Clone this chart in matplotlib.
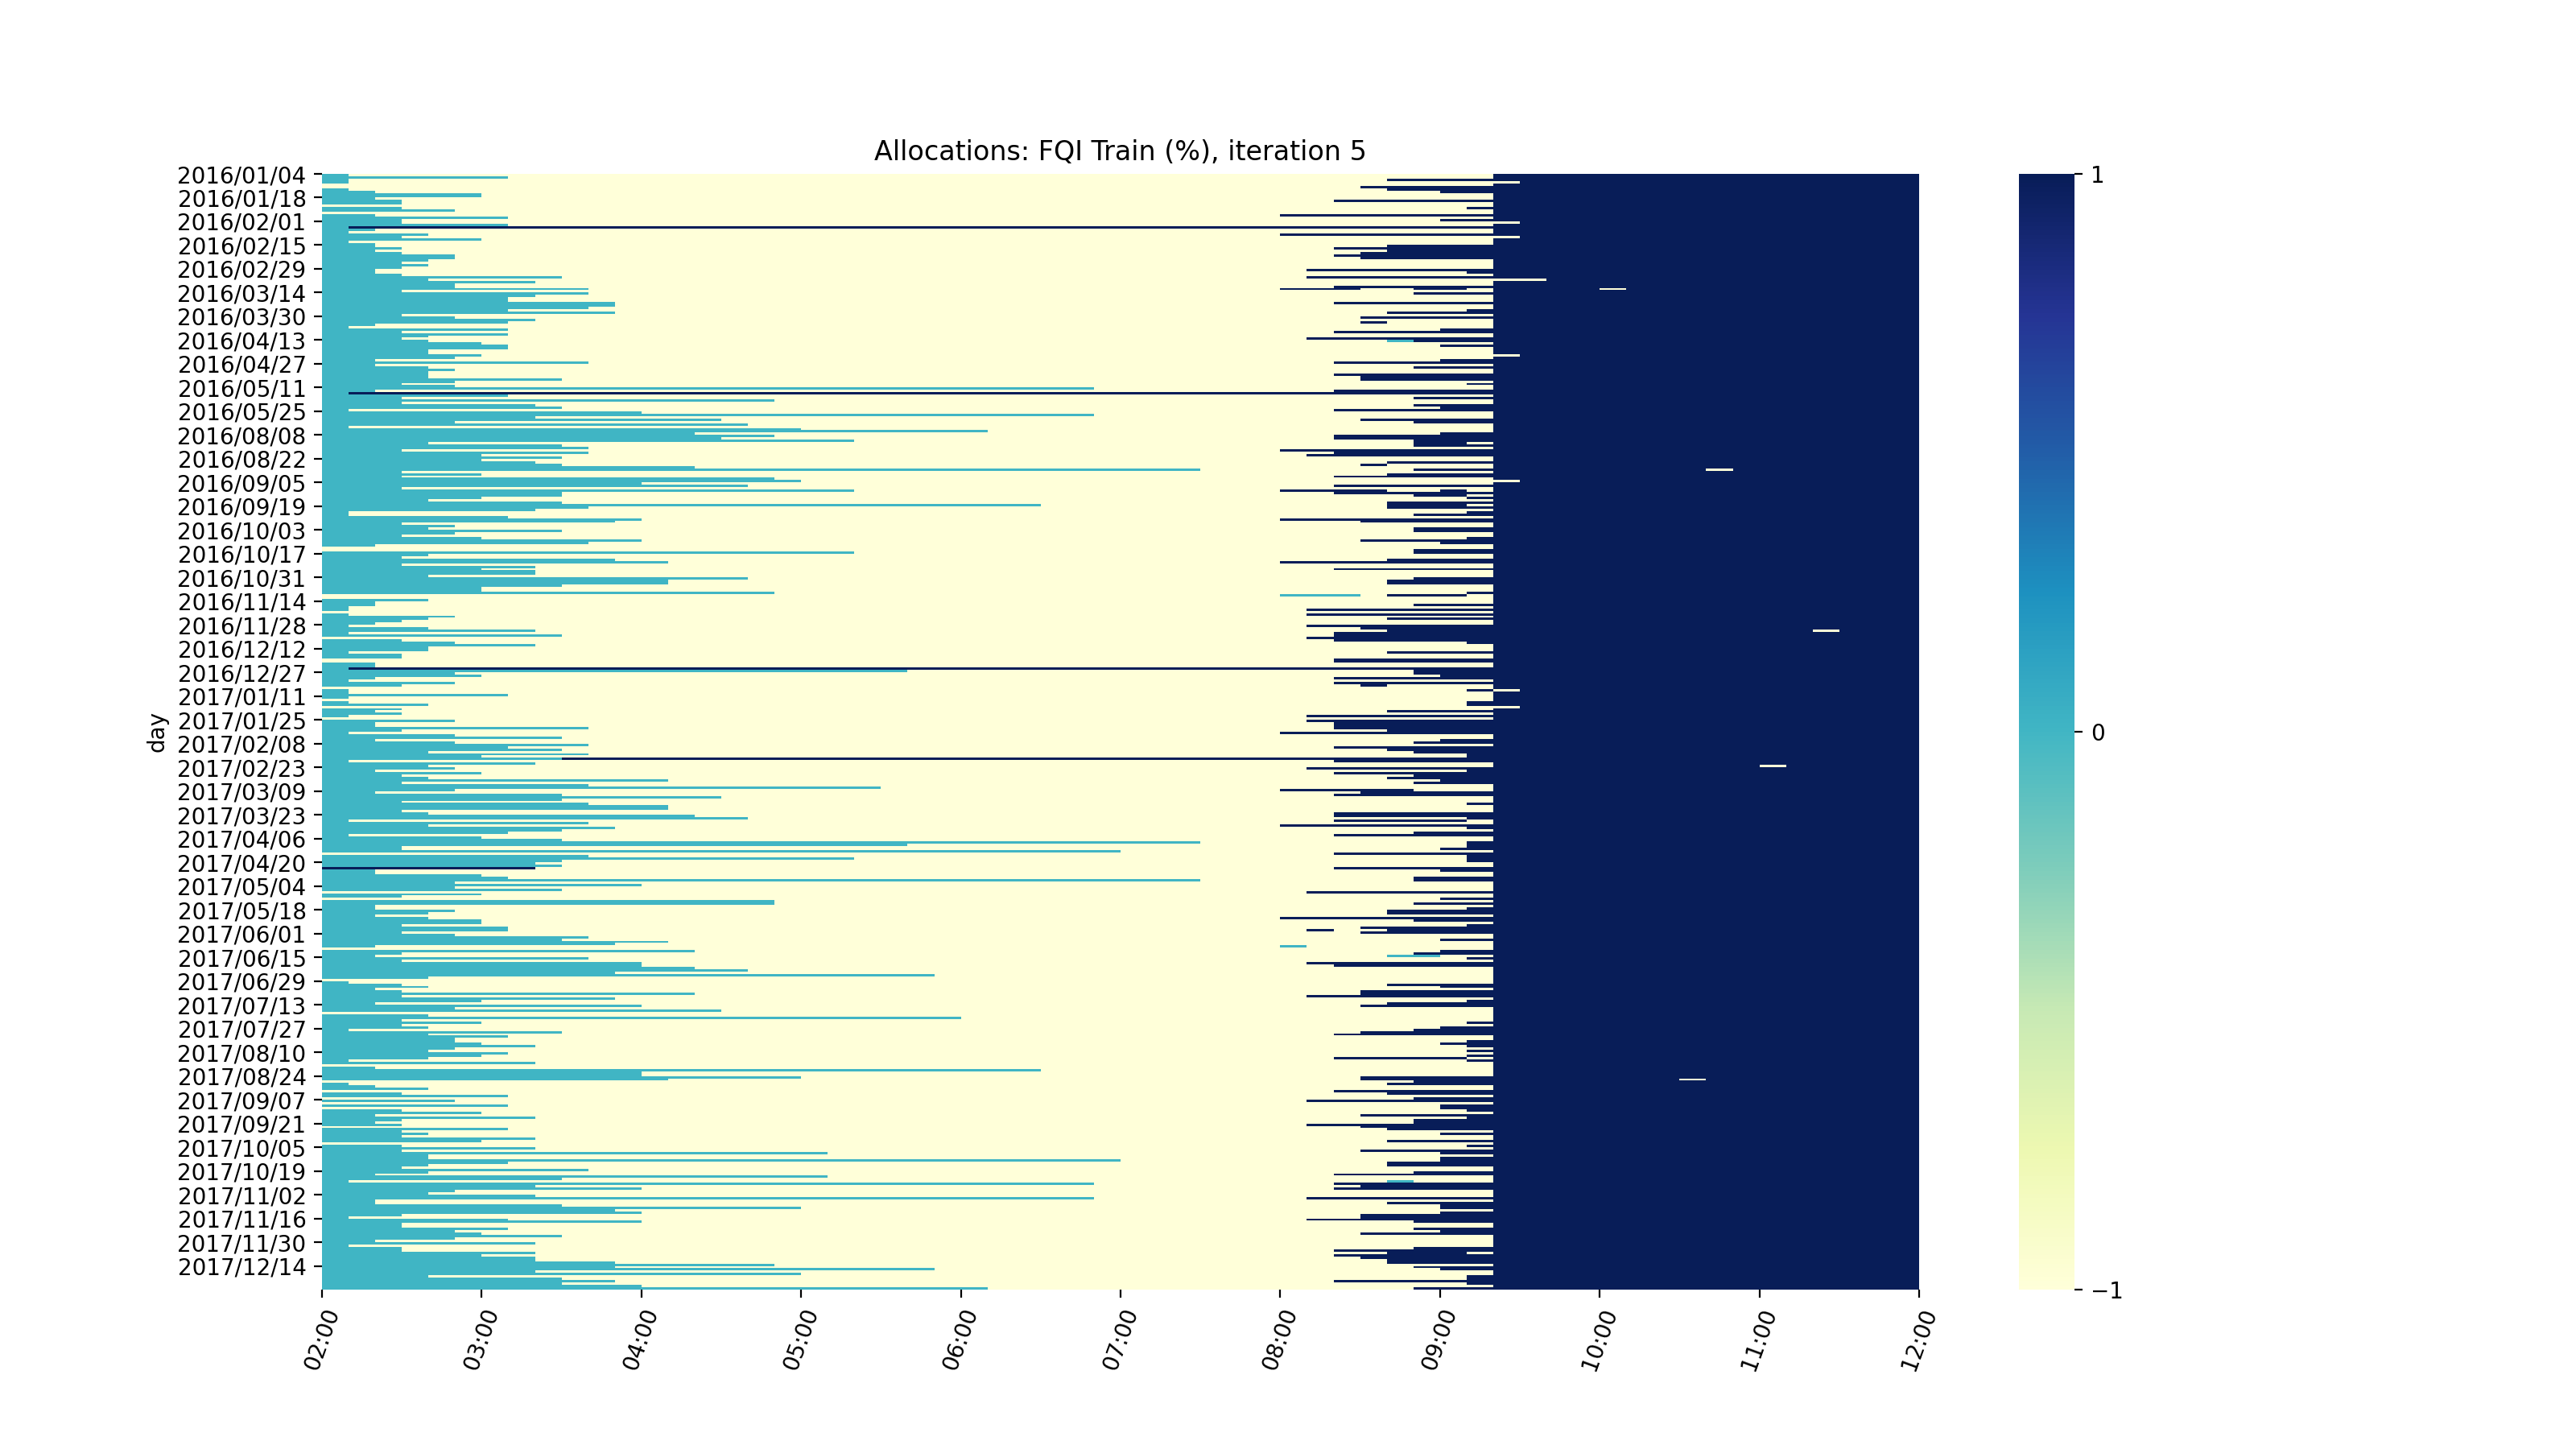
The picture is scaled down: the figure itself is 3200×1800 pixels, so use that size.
import numpy as np
import matplotlib
matplotlib.use("Agg")
import matplotlib.pyplot as plt
import seaborn as sns

# ---------------- data ----------------
title = "Allocations: FQI Train (%), iteration 5"

day_ticks = [
    "2016/01/04", "2016/01/18", "2016/02/01", "2016/02/15", "2016/02/29",
    "2016/03/14", "2016/03/30", "2016/04/13", "2016/04/27", "2016/05/11",
    "2016/05/25", "2016/08/08", "2016/08/22", "2016/09/05", "2016/09/19",
    "2016/10/03", "2016/10/17", "2016/10/31", "2016/11/14", "2016/11/28",
    "2016/12/12", "2016/12/27", "2017/01/11", "2017/01/25", "2017/02/08",
    "2017/02/23", "2017/03/09", "2017/03/23", "2017/04/06", "2017/04/20",
    "2017/05/04", "2017/05/18", "2017/06/01", "2017/06/15", "2017/06/29",
    "2017/07/13", "2017/07/27", "2017/08/10", "2017/08/24", "2017/09/07",
    "2017/09/21", "2017/10/05", "2017/10/19", "2017/11/02", "2017/11/16",
    "2017/11/30", "2017/12/14",
]

hour_labels = ["02:00", "03:00", "04:00", "05:00", "06:00", "07:00",
               "08:00", "09:00", "10:00", "11:00", "12:00"]

# number of 10-minute slots (from 02:00) with allocation 0 in each day
teal_cells = [
    1, 7, 1, 1, 0, 0, 1, 2, 6, 6,
    2, 3, 3, 0, 3, 5, 0, 2, 7, 3,
    3, 7, 1, 2, 1, 4, 3, 6, 1, 2,
    2, 3, 2, 3, 5, 5, 4, 3, 4, 3,
    2, 2, 3, 9, 4, 8, 5, 5, 10, 3,
    10, 8, 7, 7, 11, 11, 10, 7, 11, 3,
    5, 8, 7, 2, 1, 7, 3, 7, 4, 3,
    4, 6, 7, 7, 4, 4, 6, 5, 2, 10,
    2, 4, 5, 4, 4, 4, 9, 5, 3, 5,
    29, 2, 1, 7, 3, 17, 3, 8, 9, 1,
    12, 29, 8, 15, 5, 16, 1, 18, 25, 14,
    17, 15, 20, 4, 9, 10, 3, 10, 6, 9,
    6, 8, 9, 14, 33, 3, 6, 3, 17, 18,
    12, 16, 3, 20, 9, 9, 6, 4, 9, 27,
    10, 8, 1, 1, 7, 12, 11, 3, 5, 4,
    9, 5, 3, 6, 12, 10, 2, 0, 0, 20,
    4, 3, 11, 13, 3, 8, 6, 8, 8, 4,
    16, 13, 13, 9, 6, 6, 17, 0, 0, 4,
    2, 2, 1, 1, 0, 1, 5, 4, 3, 2,
    1, 4, 8, 1, 9, 0, 3, 5, 8, 4,
    4, 1, 3, 3, 0, 0, 2, 2, 1, 22,
    5, 6, 2, 1, 5, 3, 0, 1, 1, 7,
    1, 0, 1, 4, 0, 3, 2, 3, 1, 0,
    5, 2, 2, 10, 3, 1, 5, 9, 2, 5,
    10, 7, 9, 4, 10, 6, 9, 1, 8, 4,
    5, 2, 6, 3, 4, 13, 3, 10, 21, 5,
    2, 9, 15, 9, 3, 10, 13, 13, 3, 4,
    14, 16, 1, 10, 4, 11, 9, 7, 1, 6,
    9, 33, 22, 3, 3, 30, 0, 10, 20, 9,
    8, 9, 0, 2, 2, 6, 7, 33, 5, 12,
    5, 9, 0, 6, 3, 0, 17, 17, 2, 2,
    5, 4, 2, 4, 6, 6, 3, 7, 7, 3,
    5, 10, 9, 13, 11, 2, 0, 14, 3, 2,
    10, 3, 12, 12, 14, 16, 11, 23, 4, 0,
    1, 3, 4, 2, 3, 14, 3, 11, 6, 2,
    12, 5, 15, 0, 4, 24, 3, 6, 3, 4,
    1, 9, 4, 7, 5, 5, 6, 8, 5, 4,
    7, 6, 4, 1, 8, 0, 2, 27, 12, 12,
    18, 13, 0, 1, 2, 4, 0, 3, 7, 0,
    5, 0, 7, 0, 3, 6, 2, 8, 3, 2,
    3, 0, 7, 3, 4, 3, 8, 6, 0, 3,
    8, 3, 19, 4, 4, 30, 7, 4, 3, 10,
    4, 2, 19, 9, 1, 29, 8, 12, 5, 4,
    8, 29, 2, 2, 9, 18, 11, 12, 3, 1,
    7, 12, 3, 3, 7, 5, 6, 9, 5, 2,
    8, 1, 3, 3, 8, 6, 8, 8, 11, 17,
    11, 23, 8, 18, 4, 9, 11, 9, 12, 25,
]

# first 10-minute slot (from 02:00) with allocation 1 in each day
navy_from = [
    44, 44, 40, 44, 44, 39, 40, 42, 44, 44,
    44, 38, 44, 44, 43, 44, 44, 36, 44, 42,
    44, 44, 44, 44, 44, 36, 44, 44, 44, 44,
    40, 38, 40, 39, 38, 39, 44, 44, 44, 44,
    37, 43, 44, 37, 44, 44, 44, 38, 44, 44,
    41, 44, 44, 44, 38, 44, 44, 43, 40, 44,
    39, 44, 44, 44, 44, 42, 38, 44, 44, 37,
    41, 44, 42, 44, 44, 44, 44, 44, 42, 38,
    44, 41, 44, 44, 38, 39, 39, 44, 43, 44,
    44, 38, 44, 44, 41, 44, 44, 41, 42, 38,
    44, 44, 44, 39, 41, 44, 44, 44, 44, 42,
    38, 38, 41, 44, 41, 44, 36, 38, 37, 44,
    44, 40, 44, 44, 41, 44, 40, 38, 44, 44,
    44, 38, 44, 44, 38, 44, 43, 44, 40, 44,
    40, 44, 43, 41, 44, 36, 39, 44, 44, 41,
    41, 44, 44, 43, 39, 42, 44, 44, 41, 41,
    44, 44, 40, 36, 44, 44, 38, 44, 44, 44,
    41, 40, 40, 44, 44, 44, 43, 44, 44, 44,
    44, 41, 44, 37, 44, 37, 44, 40, 44, 44,
    37, 39, 40, 38, 38, 37, 38, 43, 44, 44,
    44, 40, 44, 44, 38, 38, 44, 44, 44, 41,
    41, 42, 38, 44, 38, 44, 44, 43, 44, 44,
    44, 44, 43, 43, 44, 44, 40, 44, 37, 44,
    37, 38, 38, 38, 40, 36, 44, 44, 42, 41,
    44, 38, 40, 41, 43, 43, 44, 38, 44, 44,
    37, 43, 38, 41, 40, 42, 41, 44, 44, 44,
    39, 38, 44, 44, 44, 43, 44, 44, 44, 38,
    38, 43, 44, 44, 36, 43, 44, 41, 38, 44,
    44, 43, 43, 43, 42, 44, 38, 43, 43, 43,
    44, 44, 38, 42, 44, 44, 41, 41, 44, 44,
    44, 44, 37, 44, 44, 42, 44, 41, 44, 43,
    40, 40, 44, 36, 41, 44, 43, 39, 44, 39,
    44, 44, 42, 44, 44, 44, 44, 42, 41, 44,
    43, 44, 37, 38, 44, 44, 44, 44, 44, 44,
    44, 40, 42, 44, 39, 39, 37, 44, 43, 40,
    39, 44, 44, 44, 44, 44, 44, 43, 44, 42,
    41, 39, 38, 44, 44, 43, 42, 43, 44, 43,
    44, 43, 44, 43, 44, 44, 44, 44, 44, 44,
    39, 39, 41, 40, 44, 44, 38, 40, 44, 41,
    37, 44, 42, 42, 43, 44, 39, 43, 41, 41,
    37, 39, 40, 44, 42, 44, 44, 40, 44, 43,
    44, 39, 42, 44, 42, 42, 40, 40, 44, 44,
    41, 38, 44, 44, 44, 38, 39, 38, 44, 44,
    44, 37, 44, 40, 42, 42, 44, 42, 39, 39,
    37, 41, 44, 44, 41, 42, 39, 44, 44, 44,
    44, 44, 41, 38, 44, 38, 39, 40, 40, 44,
    41, 42, 44, 44, 43, 43, 38, 43, 44, 41,
]

# irregular 08:00-09:20 slots for some days ('-' = -1, '0' = 0, '1' = 1)
window_override = {
    48: "111--11-", 62: "---1----", 70: "----0111", 113: "-----11-",
    122: "---1----", 133: "1111--1-", 135: "-----11-", 139: "----111-",
    177: "000-111-", 215: "---1----", 259: "11111---", 272: "--11111-",
    318: "-1--1111", 325: "0-------", 329: "----00--", 372: "--11111-",
    424: "----0---", 454: "----111-",
}

# days allocated 1 from an early slot onwards
full_navy_rows = [22, 92, 208, 246]
full_navy_from = [1, 1, 1, 9]

# day whose first slots are 1 instead of 0
navy_head_rows = [292]
navy_head_len = [8]

# isolated -1 slots after 09:20
yellow_rows = [3, 20, 26, 44, 44, 48, 76, 124, 129, 192, 217, 224, 249, 381]
yellow_cols = [44, 44, 44, 44, 45, 48, 44, 52, 44, 56, 44, 44, 54, 51]

# ---------------- build matrix ----------------
n_rows = len(teal_cells)
n_cols = 60
window_start = 36
code = {"-": -1.0, "0": 0.0, "1": 1.0}

M = np.full((n_rows, n_cols), -1.0)
for i in range(n_rows):
    M[i, :teal_cells[i]] = 0.0
    M[i, navy_from[i]:] = 1.0
for r, pat in window_override.items():
    for k, ch in enumerate(pat):
        M[r, window_start + k] = code[ch]
for r, c in zip(full_navy_rows, full_navy_from):
    M[r, c:] = 1.0
for r, n in zip(navy_head_rows, navy_head_len):
    M[r, :n] = 1.0
for r, c in zip(yellow_rows, yellow_cols):
    M[r, c] = -1.0

# ---------------- plot ----------------
fig = plt.figure(figsize=(16, 9), dpi=200)
ax = fig.add_subplot(111)
sns.heatmap(M, cmap="YlGnBu", vmin=-1, vmax=1, ax=ax,
            cbar_kws={"ticks": [-1, 0, 1]},
            xticklabels=False, yticklabels=False)
ax.set_xticks(np.arange(0, n_cols + 1, 6))
ax.set_xticklabels(hour_labels, rotation=70)
ax.set_yticks(np.arange(0, n_rows, 10)[:len(day_ticks)])
ax.set_yticklabels(day_ticks, rotation=0)
ax.set_ylabel("day")
ax.set_xlabel("")
ax.set_title(title)

fig.savefig("out.png", dpi=200)
